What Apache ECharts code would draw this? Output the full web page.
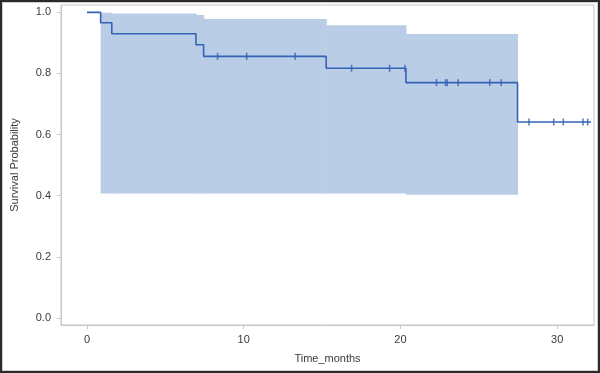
<!DOCTYPE html>
<html>
<head>
<meta charset="utf-8">
<script src="https://cdn.jsdelivr.net/npm/echarts@6/dist/echarts.min.js"></script>
<style>
  html, body { margin: 0; padding: 0; background: #fff; }
  #frame { position: relative; width: 600px; height: 373px; box-sizing: border-box;
           border: 2px solid #2a2a2a; box-shadow: inset 0 0 0 1px #cfcfcf; }
  #chart { position: absolute; left: -2px; top: -2px; width: 600px; height: 373px; }
</style>
</head>
<body>
<div id="frame"><div id="chart"></div></div>
<script>
// Kaplan-Meier step curve (event times, survival after each step)
const stepTimes = [0, 0.87, 1.58, 6.95, 7.44, 15.26, 20.35, 27.47, 32.16];
const survival  = [1.0, 0.966, 0.930, 0.894, 0.856, 0.817, 0.770, 0.641, 0.641];

// Confidence band segments
const bandStart = [0.87, 1.58, 6.95, 7.44, 15.26, 20.35];
const bandEnd   = [1.58, 6.95, 7.44, 15.26, 20.35, 27.47];
const bandUpper = [0.999, 0.996, 0.991, 0.978, 0.958, 0.929];
const bandLower = [0.407, 0.407, 0.407, 0.407, 0.407, 0.403];

// Censored observations
const censorTimes = [8.33, 10.19, 13.28, 16.88, 19.31, 20.29, 22.30, 22.88, 22.98, 23.68, 25.70, 26.43, 28.20, 29.78, 30.39, 31.65, 31.95];
const censorSurv  = [0.856, 0.856, 0.856, 0.817, 0.817, 0.817, 0.770, 0.770, 0.770, 0.770, 0.770, 0.770, 0.641, 0.641, 0.641, 0.641, 0.641];

// Axis ticks
const xTicks = [0, 10, 20, 30];
const yTicks = [0, 0.2, 0.4, 0.6, 0.8, 1.0];

const lineColor = '#3563b5';
const bandColor = '#b9cde6';
const txt = '#3a3a3a';
const axisCol = '#c8c8c8';
const font = 'Liberation Sans, Arial, sans-serif';

const chart = echarts.init(document.getElementById('chart'), null, { renderer: 'canvas' });

const bandData = bandStart.map((s, i) => [s, bandEnd[i], bandLower[i], bandUpper[i]]);

chart.setOption({
  animation: false,
  grid: { left: 61, right: 6, top: 5, bottom: 48, show: true, borderColor: axisCol, borderWidth: 1 },
  xAxis: {
    type: 'value', min: -1.66, max: 32.35,
    name: 'Time_months', nameLocation: 'middle', nameGap: 28,
    nameTextStyle: { fontFamily: font, fontSize: 11, color: txt },
    axisLine: { show: true, onZero: false, lineStyle: { color: axisCol, width: 1 } },
    axisTick: { show: true, customValues: xTicks, length: 4, lineStyle: { color: axisCol } },
    axisLabel: { customValues: xTicks, margin: 9, fontFamily: font, fontSize: 11, color: txt },
    splitLine: { show: false }
  },
  yAxis: {
    type: 'value', min: -0.023, max: 1.024,
    name: 'Survival Probability', nameLocation: 'middle', nameGap: 41, nameRotate: 90,
    nameTextStyle: { fontFamily: font, fontSize: 11, color: txt },
    axisLine: { show: true, onZero: false, lineStyle: { color: axisCol, width: 1 } },
    axisTick: { show: true, customValues: yTicks, length: 4, lineStyle: { color: axisCol } },
    axisLabel: { customValues: yTicks, margin: 10, fontFamily: font, fontSize: 11, color: txt,
                 formatter: v => v.toFixed(1) },
    splitLine: { show: false }
  },
  series: [
    {
      type: 'custom', data: bandData, z: 1, silent: true,
      renderItem: function (params, api) {
        const p1 = api.coord([api.value(0), api.value(3)]);
        const p2 = api.coord([api.value(1), api.value(2)]);
        return { type: 'rect', shape: { x: p1[0], y: p1[1], width: p2[0] - p1[0] + 0.6, height: p2[1] - p1[1] },
                 style: { fill: bandColor } };
      }
    },
    {
      type: 'line', step: 'end', z: 3, symbol: 'none', silent: true,
      data: stepTimes.map((t, i) => [t, survival[i]]),
      lineStyle: { color: lineColor, width: 1.6 }
    },
    {
      type: 'scatter', z: 4, silent: true,
      data: censorTimes.map((t, i) => [t, censorSurv[i]]),
      symbol: 'rect', symbolSize: [1.6, 7],
      itemStyle: { color: lineColor }
    }
  ]
});
</script>
</body>
</html>
